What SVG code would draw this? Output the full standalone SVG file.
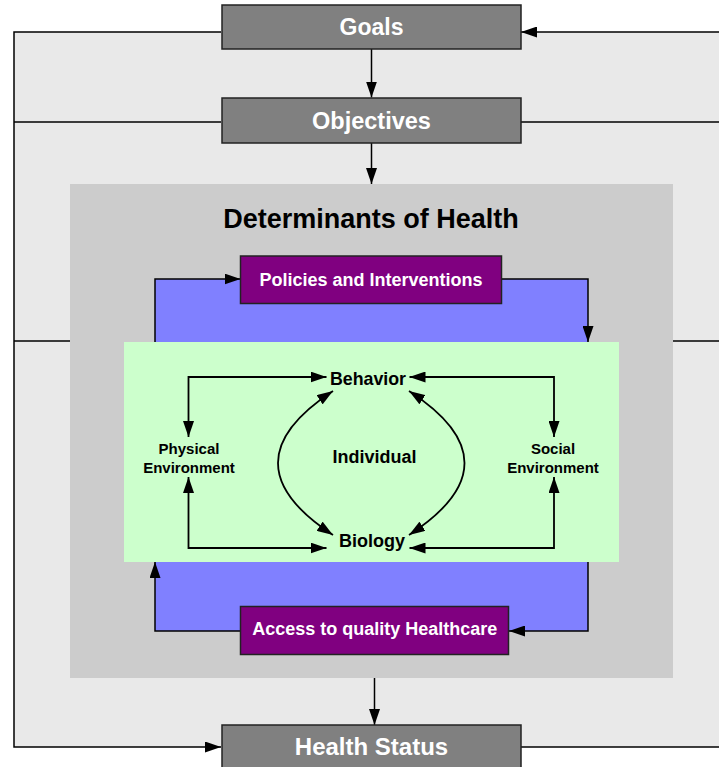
<svg xmlns="http://www.w3.org/2000/svg" width="719" height="767" viewBox="0 0 719 767">
<style>
  text { font-family: "Liberation Sans", Arial, sans-serif; font-weight: bold; text-anchor: middle; }
  .gbox { fill: #808080; stroke: #222; stroke-width: 1.5; }
  .pbox { fill: #800080; stroke: #222; stroke-width: 1.5; }
  .wt { fill: #ffffff; }
  .bt { fill: #000000; }
  .ln { fill: none; stroke: #000; stroke-width: 1.5; }
  .ar { fill: none; stroke: #000; stroke-width: 1.5; marker-end: url(#arr); }
  .ar2 { fill: none; stroke: #000; stroke-width: 1.8; marker-start: url(#arr); marker-end: url(#arr); }
</style>
<defs>
  <marker id="arr" markerUnits="userSpaceOnUse" markerWidth="16" markerHeight="11" refX="16" refY="5.5" orient="auto-start-reverse">
    <path d="M0,0 L16,5.5 L0,11 z" fill="#000"/>
  </marker>
</defs>

<rect id="background" x="0" y="0" width="719" height="767" fill="#ffffff"/>
<rect id="outer-area" x="14" y="32" width="705" height="715" fill="#e9e9e9"/>

<g id="determinants">
  <rect x="70" y="184" width="603" height="494" fill="#cccccc"/>
  <text class="bt" x="371" y="228" font-size="27">Determinants of Health</text>
</g>
<rect id="blue-area" x="155" y="279" width="433" height="352" fill="#8080ff"/>
<g id="individual-area">
  <rect x="124" y="342" width="495" height="220" fill="#ccffcc"/>
  <text class="bt" x="374.5" y="463" font-size="18">Individual</text>
</g>

<g id="connectors">
  <path class="ar" d="M221,32 H14 V747 H221"/>
  <path class="ln" d="M14,122 H221"/>
  <path class="ln" d="M14,341 H70"/>
  <path class="ar" d="M719,32 H521"/>
  <path class="ln" d="M521,122 H719"/>
  <path class="ln" d="M673,341 H719"/>
  <path class="ln" d="M521,747 H719"/>
  <path class="ar" d="M371.5,49 V97.5"/>
  <path class="ar" d="M371.5,143 V184"/>
  <path class="ar" d="M374.5,678 V725"/>
  <path class="ar" d="M155,342 V279 H240.5"/>
  <path class="ar" d="M502,279 H588 V342"/>
  <path class="ar" d="M240.5,631 H155 V562"/>
  <path class="ar" d="M588,562 V631 H509"/>
  <path class="ar2" d="M188.5,437 V377 H326.5"/>
  <path class="ar2" d="M188.5,477 V548 H326.5"/>
  <path class="ar2" d="M554,437 V377 H409.5"/>
  <path class="ar2" d="M554,477 V548 H409.5"/>
  <path class="ar2" d="M333,391 Q223,463 333,535"/>
  <path class="ar2" d="M409,391 Q520,463 409,535"/>
</g>

<g id="goals">
  <rect class="gbox" x="222" y="5" width="299" height="44"/>
  <text class="wt" x="371.5" y="35" font-size="23">Goals</text>
</g>
<g id="objectives">
  <rect class="gbox" x="222" y="98" width="299" height="45"/>
  <text class="wt" x="371.5" y="128.5" font-size="23.5">Objectives</text>
</g>
<g id="policies">
  <rect class="pbox" x="240.5" y="256" width="261" height="47.5"/>
  <text class="wt" x="371" y="286" font-size="18">Policies and Interventions</text>
</g>
<g id="behavior">
  <text class="bt" x="368" y="385" font-size="17.8">Behavior</text>
</g>
<g id="biology">
  <text class="bt" x="372" y="547" font-size="18">Biology</text>
</g>
<g id="physical-environment">
  <text class="bt" x="189" y="454" font-size="15">Physical</text>
  <text class="bt" x="189" y="472.5" font-size="15">Environment</text>
</g>
<g id="social-environment">
  <text class="bt" x="553" y="454" font-size="15">Social</text>
  <text class="bt" x="553" y="472.5" font-size="15">Environment</text>
</g>
<g id="access">
  <rect class="pbox" x="240.5" y="606.5" width="268" height="48"/>
  <text class="wt" x="374.8" y="635" font-size="18">Access to quality Healthcare</text>
</g>
<g id="health-status">
  <rect class="gbox" x="222" y="725" width="299" height="50"/>
  <text class="wt" x="371.5" y="754.5" font-size="24">Health Status</text>
</g>
</svg>
